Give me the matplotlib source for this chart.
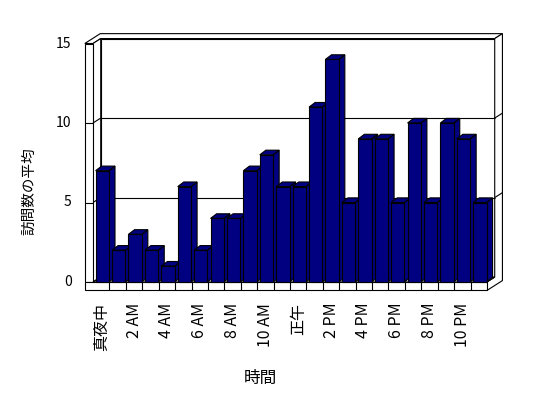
import matplotlib.pyplot as plt
from matplotlib.patches import Polygon

plt.rcParams['font.family'] = ['Noto Sans CJK JP', 'DejaVu Sans']

# average visits per hour (0 = midnight ... 23 = 11 PM)
hours = list(range(24))
visits = [7, 2, 3, 2, 1, 6, 2, 4, 4, 7, 8, 6, 6, 11, 14, 5, 9, 9, 5, 10, 5, 10, 9, 5]
tick_labels = ['真夜中', '2 AM', '4 AM', '6 AM', '8 AM', '10 AM',
               '正午', '2 PM', '4 PM', '6 PM', '8 PM', '10 PM']
y_ticks = [0, 5, 10, 15]
x_title = '時間'
y_title = '訪問数の平均'

bar_color = '#000080'
lw = 0.8

fig = plt.figure(figsize=(5.48, 3.98), dpi=100)
ax = fig.add_axes([93 / 548, (398 - 282) / 398, 394 / 548, 238.5 / 398])
ax.set_xlim(0, 24)
ax.set_ylim(0, 15)
ax.axis('off')

# 3d look: one step back in depth moves right and up
dx, dy = 0.47, 0.31
t = 0.5    # left wall thickness
f = 0.53   # floor thickness
xmax = len(hours)
ymax = y_ticks[-1]


def P(x, y, z):
    # project a (x, y, depth) point onto the flat axes
    return (x + z * dx, y + z * dy)


def face(pts, fc='white', z=1):
    ax.add_patch(Polygon(pts, closed=True, facecolor=fc, edgecolor='black',
                         linewidth=lw, clip_on=False, zorder=z))


def line(p0, p1, z=2):
    ax.plot([p0[0], p1[0]], [p0[1], p1[1]], color='black', lw=lw,
            clip_on=False, zorder=z, solid_capstyle='butt')


# back wall, top, right side
face([P(0, 0, 1), P(xmax, 0, 1), P(xmax, ymax, 1), P(0, ymax, 1)])
face([P(-t, ymax, 0), P(0, ymax, 0), P(0, ymax, 1), P(xmax, ymax, 1),
      P(xmax, ymax, 2), P(-t, ymax, 2)])
face([P(xmax, -f, 0), P(xmax, 0, 0), P(xmax, 0, 1), P(xmax, ymax, 1),
      P(xmax, ymax, 2), P(xmax, -f, 2)])
# left wall inside and front edge
face([P(0, 0, 0), P(0, 0, 1), P(0, ymax, 1), P(0, ymax, 0)])
face([P(-t, 0, 0), P(0, 0, 0), P(0, ymax, 0), P(-t, ymax, 0)])
# floor top and front
face([P(0, 0, 0), P(xmax, 0, 0), P(xmax, 0, 1), P(0, 0, 1)])
face([P(-t, -f, 0), P(xmax, -f, 0), P(xmax, 0, 0), P(-t, 0, 0)])

# gridlines running round the walls
for v in y_ticks[1:-1]:
    line(P(-t, v, 0), P(0, v, 0))
    line(P(0, v, 0), P(0, v, 1))
    line(P(0, v, 1), P(xmax, v, 1))
    line(P(xmax, v, 1), P(xmax, v, 2))

# category separators on the floor edge
for i in hours[1:]:
    line(P(i, -f, 0), P(i, 0, 0))

# bars, left to right so the next one covers the side of the previous
bw = 0.81
bdx, bdy = 0.37, 0.29
for i, v in zip(hours, visits):
    x0 = i + 0.16
    x1 = x0 + bw
    zb = 3 + i * 0.01
    face([(x1, 0), (x1 + bdx, bdy), (x1 + bdx, v + bdy), (x1, v)], bar_color, zb)
    face([(x0, v), (x1, v), (x1 + bdx, v + bdy), (x0 + bdx, v + bdy)], bar_color, zb)
    face([(x0, 0), (x1, 0), (x1, v), (x0, v)], bar_color, zb)

# axis texts
for v in y_ticks:
    ax.text(-1.3, v, str(v), ha='right', va='center', fontsize=10)
for k, lab in enumerate(tick_labels):
    ax.text(hours[k * 2] + 0.5, -1.3, lab, rotation=90, ha='center', va='top',
            fontsize=11.5)
ax.text(10.2, -6.05, x_title, ha='center', va='center', fontsize=12)
ax.text(-3.85, 5.7, y_title, rotation=90, ha='center', va='center', fontsize=10.5)

fig.savefig('out.png', dpi=100)
